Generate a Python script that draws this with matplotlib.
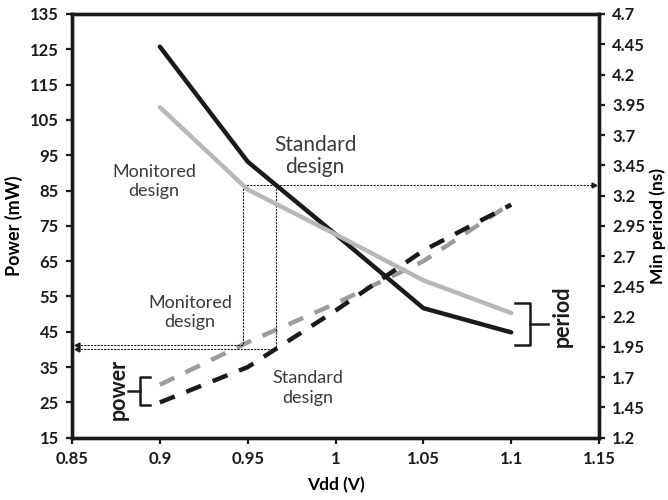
import numpy as np
import matplotlib
matplotlib.use("Agg")
import matplotlib.pyplot as plt

# supply voltage sweep
vdd = [0.9, 0.95, 1.0, 1.05, 1.1]

# min period (ns), right axis
period_standard = [4.43, 3.48, 2.88, 2.27, 2.07]
period_monitored = [3.93, 3.25, 2.88, 2.50, 2.23]

# power (mW), left axis
power_standard = [25, 35, 51, 68, 81]
power_monitored = [30, 42, 53, 65, 81.4]

# target period used for the dotted construction lines
target_period = 3.29

plt.rcParams['font.family'] = ['Lato', 'DejaVu Sans']

fig = plt.figure(figsize=(6.68, 5.0), dpi=100)
ax = fig.add_axes([0.1078, 0.1246, 0.789, 0.8474])
ax2 = ax.twinx()

ax.set_xlim(0.85, 1.15)
ax.set_ylim(15, 135)
ax2.set_ylim(1.2, 4.7)

ax.set_xticks(np.arange(0.85, 1.151, 0.05))
ax.set_xticklabels(['0.85', '0.9', '0.95', '1', '1.05', '1.1', '1.15'])
ax.set_yticks(np.arange(15, 136, 10))
ax2.set_yticks(np.arange(1.2, 4.71, 0.25))
ax2.set_yticklabels([f'{v:g}' for v in np.round(np.arange(1.2, 4.71, 0.25), 2)])

black = '#1a1a1a'
grey_solid = '#b8b8b8'
grey_dash = '#9c9c9c'

ax2.plot(vdd, period_standard, color=black, lw=3.2, solid_capstyle='round')
ax2.plot(vdd, period_monitored, color=grey_solid, lw=3.2, solid_capstyle='round')
ax.plot(vdd, power_monitored, color=grey_dash, lw=3.2, dashes=(3.6, 2.8))
ax.plot(vdd, power_standard, color=black, lw=3.2, dashes=(3.6, 2.8))

# where each design reaches the target period, and the power there
v_mon = np.interp(target_period, period_monitored[::-1], vdd[::-1])
v_std = np.interp(target_period, period_standard[::-1], vdd[::-1])
p_mon = np.interp(v_mon, vdd, power_monitored)
p_std = np.interp(v_std, vdd, power_standard)

def to_power(p):
    return 15 + (p - 1.2) / 3.5 * 120

y_top = to_power(target_period)
dot = dict(color=black, lw=0.8, ls=(0, (2, 1)))
ax.plot([v_mon, v_mon], [y_top, p_mon], **dot)
ax.plot([v_std, v_std], [y_top, p_std], **dot)
ax.plot([v_mon, 1.147], [y_top, y_top], **dot)
ax.plot([0.853, v_mon], [p_mon, p_mon], **dot)
ax.plot([0.853, v_std], [p_std, p_std], **dot)
for x, y in [(1.147, y_top), (0.853, p_mon), (0.853, p_std)]:
    ax.plot(x, y, marker='>' if x > 1 else '<', color=black, ms=3.5, clip_on=False)

txt = '#3a3a3a'
ax.text(0.9884, 94.8, 'Standard\ndesign', ha='center', va='center', fontsize=15, color=txt, linespacing=1.15)
ax.text(0.8967, 87.5, 'Monitored\ndesign', ha='center', va='center', fontsize=13, color=txt, linespacing=1.25)
ax.text(0.9172, 50.4, 'Monitored\ndesign', ha='center', va='center', fontsize=13, color=txt, linespacing=1.25)
ax.text(0.9844, 29.1, 'Standard\ndesign', ha='center', va='center', fontsize=13, color=txt, linespacing=1.25)
ax.text(0.8762, 28.8, 'power', ha='center', va='center', rotation=90, fontsize=15.5, fontweight='bold', color=black)
ax.text(1.129, 49.5, 'period', ha='center', va='center', rotation=90, fontsize=15.5, fontweight='bold', color=black)

# braces
ax.plot([0.8944, 0.8887, 0.8887, 0.8944], [32.2, 32.2, 24.3, 24.3], color=black, lw=1.8, clip_on=False)
ax.plot([0.8819, 0.8887], [28.2, 28.2], color=black, lw=1.8)
ax.plot([1.1023, 1.1108, 1.1108, 1.1023], [53.1, 53.1, 41.3, 41.3], color=black, lw=1.8, clip_on=False)
ax.plot([1.1108, 1.1211], [47.2, 47.2], color=black, lw=1.8)

for a in (ax, ax2):
    for s in a.spines.values():
        s.set_linewidth(2.4)
        s.set_color(black)
    a.tick_params(width=1.6, length=4.5, pad=5, direction='out', labelsize=12, colors=black)
for lab in ax.get_xticklabels() + ax.get_yticklabels() + ax2.get_yticklabels():
    lab.set_fontweight('bold')

ax.set_xlabel('Vdd (V)', fontsize=12.5, fontweight='bold', labelpad=7)
ax.set_ylabel('Power (mW)', fontsize=13, fontweight='bold', labelpad=5)
ax2.set_ylabel('Min period (ns)', fontsize=12.5, fontweight='bold', labelpad=3)

fig.savefig('out.png', dpi=100)
